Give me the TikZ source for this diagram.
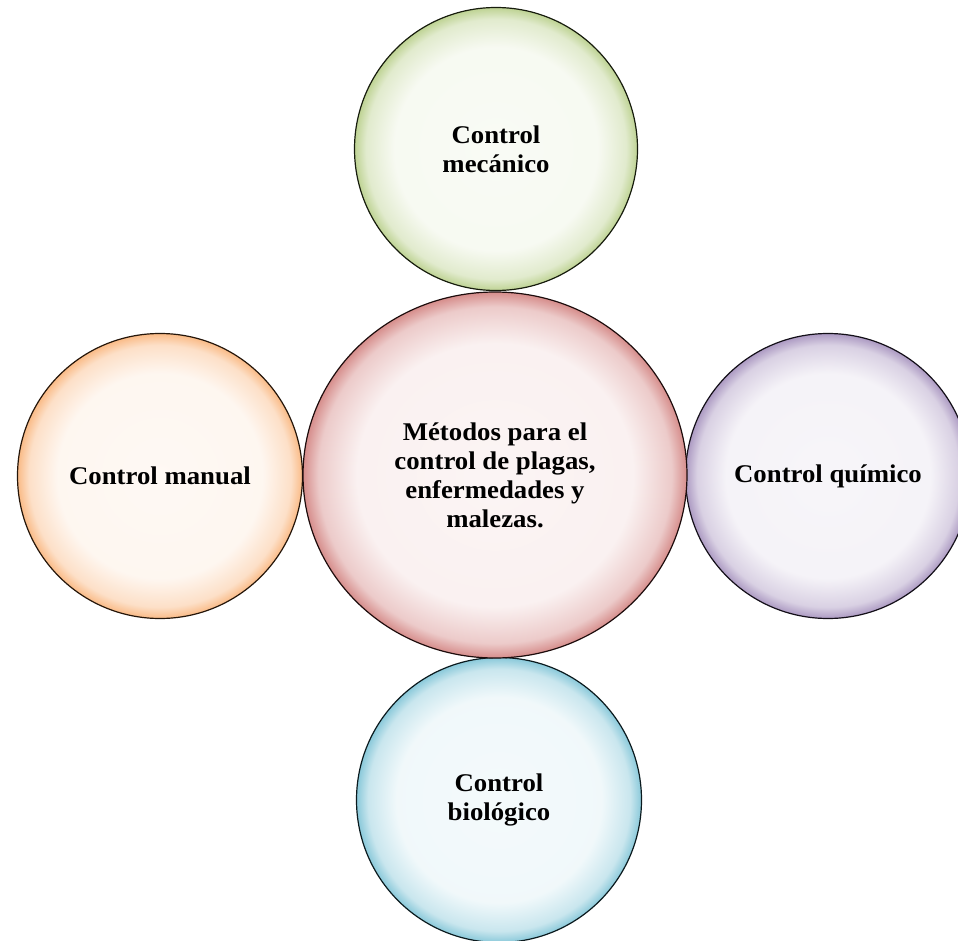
\documentclass[tikz,border=0pt]{standalone}
\usepackage{fontspec}
\setmainfont{Liberation Serif}[FakeStretch=1.05]
\usepackage{tikz}
\usetikzlibrary{positioning,shapes.geometric}
\definecolor{officegreen}{HTML}{9BBB59}
\definecolor{officered}{HTML}{C0504D}
\definecolor{officeorange}{HTML}{F79646}
\definecolor{officepurple}{HTML}{8064A2}
\definecolor{officeaqua}{HTML}{4BACC6}
\colorlet{bubbletint}{officered}
\pgfdeclareradialshading[bubbletint]{bubble}{\pgfpointorigin}{color(0bp)=(bubbletint!6); color(18bp)=(bubbletint!8); color(23bp)=(bubbletint!30); color(25bp)=(bubbletint!65); color(50bp)=(bubbletint!65)}
\tikzset{
  bubble/.style={circle, /utils/exec={\colorlet{bubbletint}{#1}}, shade, shading=bubble,
    draw=#1!15!black, line width=1.2pt, minimum size=285pt, inner sep=0pt,
    align=center, font=\fontsize{25.5}{29}\selectfont\bfseries}
}

\begin{document}
\begin{tikzpicture}[x=1pt,y=-1pt]
    \clip (0,0) rectangle (958,941);
    \useasboundingbox (0,0) rectangle (958,941);
    \node[bubble=officegreen, minimum size=283pt] at (496,149) (mecanico) {Control\\mecánico};
    \node[bubble=officeorange] at (160,476) (manual) {Control manual};
    \node[bubble=officepurple] at (828,476) (quimico) {Control químico};
    \node[bubble=officeaqua] at (499,800) (biologico) {Control\\biológico};
    \node[bubble=officered, ellipse, minimum width=384pt, minimum height=366pt] at (495,475) (metodos)
      {Métodos para el\\control de plagas,\\enfermedades y\\malezas.};
\end{tikzpicture}
\end{document}
